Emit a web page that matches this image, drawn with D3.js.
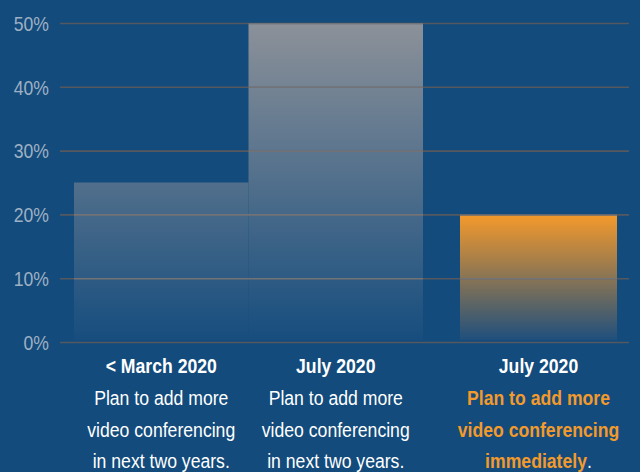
<!DOCTYPE html>
<html>
<head>
<meta charset="utf-8">
<style>
    body {
        margin: 0;
        padding: 0;
        background-color: #124b7c;
        overflow: hidden;
    }
    .tick-label {
        font: 20px "Liberation Sans", Arial, sans-serif;
        fill: #9fb0c3;
    }
    .cat-label {
        font: 21px "Liberation Sans", Arial, sans-serif;
        fill: white;
        text-anchor: middle;
    }
</style>
</head>
<body>
<script src="https://d3js.org/d3.v7.min.js"></script>
<script>
var categories = ["march", "july", "julyNow"];
var values = [25, 50, 20];
var yTicks = [0, 10, 20, 30, 40, 50];
var headings = ["< March 2020", "July 2020", "July 2020"];
var descLines = [
    ["Plan to add more", "video conferencing", "in next two years."],
    ["Plan to add more", "video conferencing", "in next two years."],
    ["Plan to add more", "video conferencing", "immediately"]
];

var width = 640, height = 472;
var gridLeft = 60, gridRight = 629;
var squeeze = 0.84; // no condensed font here, so squash horizontally

var svg = d3.select("body").append("svg")
    .attr("width", width)
    .attr("height", height);

var y = d3.scaleLinear()
    .domain([0, 50])
    .range([342, 23]);

var x = d3.scaleBand()
    .domain(categories)
    .range([74, 597.5])
    .padding(0);

var defs = svg.append("defs");

var grey = defs.append("linearGradient")
    .attr("id", "greyGrad")
    .attr("gradientUnits", "userSpaceOnUse")
    .attr("x1", 0).attr("x2", 0)
    .attr("y1", y(50)).attr("y2", y(0));
grey.append("stop").attr("offset", 0).attr("stop-color", "#8c9199");
grey.append("stop").attr("offset", 1).attr("stop-color", "#164d7e");

var orange = defs.append("linearGradient")
    .attr("id", "orangeGrad")
    .attr("gradientUnits", "userSpaceOnUse")
    .attr("x1", 0).attr("x2", 0)
    .attr("y1", y(20)).attr("y2", y(0));
orange.append("stop").attr("offset", 0).attr("stop-color", "#f59a2b");
orange.append("stop").attr("offset", 1).attr("stop-color", "#1c4e7e");

// the highlighted bar sits a bit apart and is narrower
function barX(d, i) { return i == 2 ? x(d) + 37 : x(d); }
function barW(d, i) { return i == 2 ? 157 : x.bandwidth(); }
function barY(d, i) { return y(values[i]); }
function barH(d, i) { return y(0) - y(values[i]) - 2; }

svg.selectAll(".bar")
    .data(categories)
    .enter().append("rect")
    .attr("class", "bar")
    .attr("x", barX)
    .attr("width", barW)
    .attr("y", barY)
    .attr("height", barH)
    .style("fill", function(d, i) { return i == 2 ? "url(#orangeGrad)" : "url(#greyGrad)"; });

// clip so gridlines read a bit lighter where they cross the bars
defs.append("clipPath").attr("id", "barClip")
    .selectAll("rect")
    .data(categories)
    .enter().append("rect")
    .attr("x", barX)
    .attr("width", barW)
    .attr("y", barY)
    .attr("height", barH);

// gridlines
var yAxis = d3.axisLeft(y)
    .tickValues(yTicks)
    .tickSize(-(gridRight - gridLeft))
    .tickFormat(function(d) { return d + "%"; });

var gAxis = svg.append("g")
    .attr("transform", "translate(" + gridLeft + ",0)")
    .call(yAxis);
gAxis.select(".domain").remove();
gAxis.selectAll(".tick line")
    .attr("stroke", "#55595f")
    .attr("stroke-width", 1.6);
gAxis.selectAll(".tick text")
    .attr("class", "tick-label")
    .attr("x", 0)
    .attr("dy", "0.36em")
    .attr("fill", null)
    .attr("transform", "translate(-11,0) scale(0.88,1)");

svg.append("g")
    .attr("clip-path", "url(#barClip)")
    .selectAll("line")
    .data(yTicks)
    .enter().append("line")
    .attr("x1", gridLeft)
    .attr("x2", gridRight)
    .attr("y1", function(d) { return y(d) + 0.5; })
    .attr("y2", function(d) { return y(d) + 0.5; })
    .attr("stroke", "#9a9a9a")
    .attr("stroke-opacity", 0.4)
    .attr("stroke-width", 1.6);

// category labels
var centers = categories.map(function(d, i) { return barX(d, i) + barW(d, i) / 2; });
var lineY = [373, 405, 437, 468];

categories.forEach(function(c, i) {
    var g = svg.append("g")
        .attr("transform", "translate(" + centers[i] + ",0) scale(" + squeeze + ",1)");
    g.append("text")
        .attr("class", "cat-label")
        .attr("x", 0)
        .attr("y", lineY[0])
        .style("font-weight", "bold")
        .text(headings[i]);
    descLines[i].forEach(function(line, j) {
        var t = g.append("text")
            .attr("class", "cat-label")
            .attr("x", 0)
            .attr("y", lineY[j + 1]);
        if (i == 2) {
            t.append("tspan")
                .style("fill", "#f39a2c")
                .style("font-weight", "bold")
                .text(line);
            if (j == 2) t.append("tspan").text(".");
        } else {
            t.text(line);
        }
    });
});
</script>
</body>
</html>
